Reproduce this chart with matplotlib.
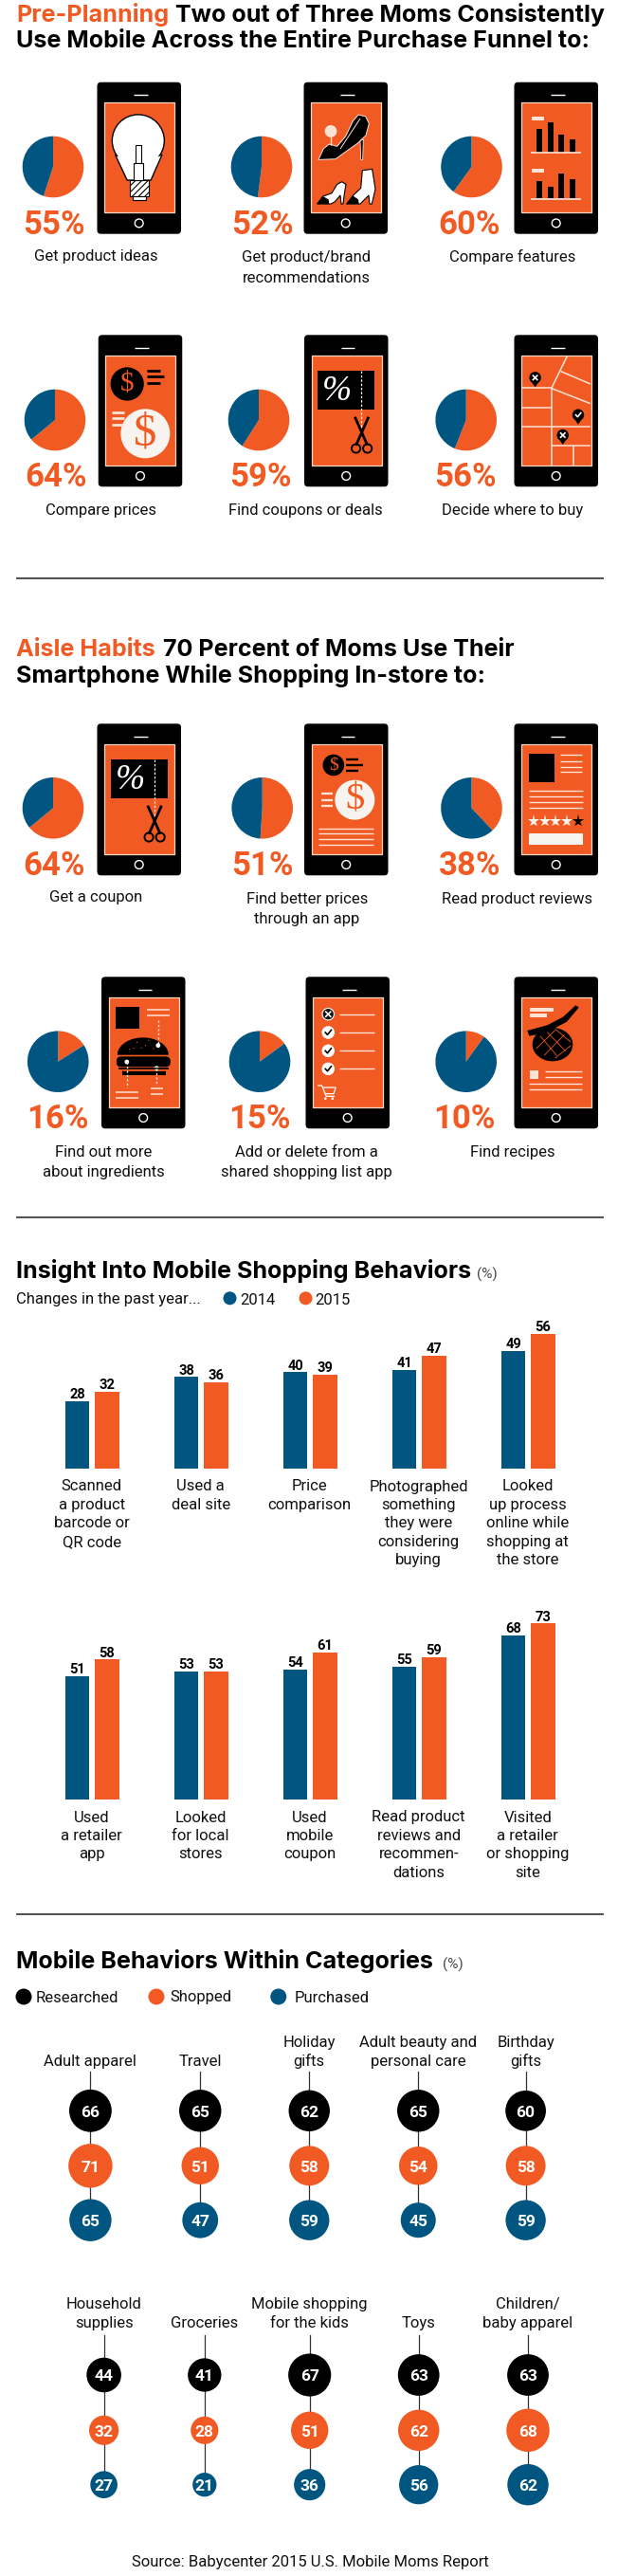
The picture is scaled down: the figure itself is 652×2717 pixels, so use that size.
import numpy as np
import matplotlib
matplotlib.use("Agg")
import matplotlib.pyplot as plt
from matplotlib.patches import Circle, Ellipse, FancyBboxPatch, Polygon, Rectangle

W, H = 652, 2717
ORANGE = "#F15A22"
BLUE = "#005581"
RULE = "#555555"
CREAM = "#fbe3d6"
FONT = "Roboto"
TITLE_FONT = "Inter"
TITLE_SIZE = 18.1
LABEL_SIZE = 12

# section 1 + 2 figures
planning_labels = ["Get product ideas", "Get product/brand\nrecommendations", "Compare features",
                   "Compare prices", "Find coupons or deals", "Decide where to buy"]
planning_values = [55, 52, 60, 64, 59, 56]
aisle_labels = ["Get a coupon", "Find better prices\nthrough an app", "Read product reviews",
                "Find out more\nabout ingredients", "Add or delete from a\nshared shopping list app", "Find recipes"]
aisle_values = [64, 51, 38, 16, 15, 10]

# section 3
bar_labels_top = ["Scanned\na product\nbarcode or\nQR code", "Used a\ndeal site", "Price\ncomparison",
                  "Photographed\nsomething\nthey were\nconsidering\nbuying",
                  "Looked\nup process\nonline while\nshopping at\nthe store"]
top_2014 = [28, 38, 40, 41, 49]
top_2015 = [32, 36, 39, 47, 56]
bar_labels_bottom = ["Used\na retailer\napp", "Looked\nfor local\nstores", "Used\nmobile\ncoupon",
                     "Read product\nreviews and\nrecommen-\ndations", "Visited\na retailer\nor shopping\nsite"]
bottom_2014 = [51, 53, 54, 55, 68]
bottom_2015 = [58, 53, 61, 59, 73]

# section 4
cats_top = ["Adult apparel", "Travel", "Holiday\ngifts", "Adult beauty and\npersonal care", "Birthday\ngifts"]
researched_top = [66, 65, 62, 65, 60]
shopped_top = [71, 51, 58, 54, 58]
purchased_top = [65, 47, 59, 45, 59]
cats_bottom = ["Household\nsupplies", "Groceries", "Mobile shopping\nfor the kids", "Toys", "Children/\nbaby apparel"]
researched_bottom = [44, 41, 67, 63, 63]
shopped_bottom = [32, 28, 51, 62, 68]
purchased_bottom = [27, 21, 36, 56, 62]

plt.rcParams["font.family"] = [FONT, "DejaVu Sans"]
plt.rcParams["hatch.linewidth"] = 0.8

fig = plt.figure(figsize=(W / 100, H / 100), dpi=100, facecolor="white")


def px_axes(left, top, width, height):
    return fig.add_axes([left / W, 1 - (top + height) / H, width / W, height / H])


ax = px_axes(0, 0, W, H)
ax.set_xlim(0, W)
ax.set_ylim(H, 0)
ax.axis("off")
ax.patch.set_alpha(0)
ax.set_zorder(5)


def text_lines(x, y, s, step=19.4, size=LABEL_SIZE):
    for i, line in enumerate(s.split("\n")):
        ax.text(x, y + i * step, line, ha="center", va="baseline", fontsize=size, color="#111111")


def title(x, y, s, color="black"):
    ax.text(x, y, s, color=color, fontsize=TITLE_SIZE, fontweight="bold", va="baseline", family=TITLE_FONT)


def rule(y):
    ax.plot([16.7, 636.7], [y, y], color=RULE, lw=1.5, solid_capstyle="butt")


def mapper(sx, sy, zx0, zy0, kx=2.4, ky=3):
    # icon shapes were measured on the zoomed reference
    return lambda zx, zy: (sx + (zx - zx0) / kx, sy + (zy - zy0) / ky)


def seg(P, a, b, color="white", lw=1.2, **kw):
    (x1, y1), (x2, y2) = P(*a), P(*b)
    ax.plot([x1, x2], [y1, y2], color=color, lw=lw, solid_capstyle="butt", **kw)


def rect(P, a, b, color="black"):
    (x1, y1), (x2, y2) = P(*a), P(*b)
    ax.add_patch(Rectangle((x1, y1), x2 - x1, y2 - y1, fc=color, ec="none"))


def poly(P, pts, fc="black", ec="none", lw=0.8):
    ax.add_patch(Polygon([P(*p) for p in pts], closed=True, fc=fc, ec=ec, lw=lw, joinstyle="round"))


def icon_bulb(sx, sy):
    P = mapper(sx, sy, 264, 325)
    poly(P, [(292, 490), (322, 570), (382, 570), (410, 490)], fc="white", ec="black", lw=1)
    ax.add_patch(Circle(P(350, 445), 27.5, fc="white", ec="black", lw=1))
    poly(P, [(296, 495), (325, 565), (380, 565), (406, 495)], fc="white")
    x, y = P(328, 570)
    ax.add_patch(Rectangle((x, y), 20, 16.5, fc="white", ec="black", lw=0.8, hatch="/////"))
    x, y = P(335, 620)
    ax.add_patch(Rectangle((x, y), 14, 4, fc="white", ec="black", lw=0.8))
    for a, b, c, d in [(343, 358, 458, 515), (338, 362, 515, 570)]:
        x, y = P(a, c)
        ax.add_patch(Rectangle((x, y), (b - a) / 2.4, (d - c) / 3, fc="white", ec="black", lw=0.8))


def icon_shoes(sx, sy):
    P = mapper(sx, sy, 22, 12, 3, 3)
    seg(P, (85, 110), (85, 145), color=CREAM, lw=1)
    ax.add_patch(Circle(P(85, 102), 6.4, fc=CREAM, ec="none"))
    poly(P, [(178, 132), (188, 128), (186, 192), (180, 192)], fc="black", ec=CREAM, lw=0.6)
    poly(P, [(46, 192), (62, 157), (80, 143), (105, 150), (132, 118), (155, 70), (172, 50), (195, 55), (206, 78),
             (196, 115), (170, 140), (125, 172), (100, 190)], fc="black", ec=CREAM, lw=0.7)
    seg(P, (115, 158), (178, 62), color=CREAM, lw=0.7)
    poly(P, [(120, 262), (133, 270), (128, 300), (124, 332), (118, 332), (115, 305), (98, 325), (85, 332), (42, 332),
             (60, 308), (88, 298), (105, 270)], fc="white", ec="black", lw=0.8)
    poly(P, [(42, 332), (60, 308), (78, 318), (80, 332)], fc="black")
    poly(P, [(185, 226), (216, 222), (226, 285), (215, 332), (208, 332), (205, 305), (178, 332), (135, 332),
             (155, 306), (180, 282)], fc="white", ec="black", lw=0.8)
    poly(P, [(135, 332), (155, 306), (172, 318), (174, 332)], fc="black")


def icon_charts(sx, sy):
    P = mapper(sx, sy, 1320, 325)
    rect(P, (1346, 370), (1378, 380), CREAM)
    rect(P, (1346, 535), (1378, 545), CREAM)
    for x, t1, t2 in zip([1358, 1386, 1414, 1442], [408, 388, 425, 440], [573, 591, 549, 567]):
        rect(P, (x, t1), (x + 15, 483))
        rect(P, (x, t2), (x + 15, 628))
    seg(P, (1345, 484), (1470, 484), color=CREAM)
    seg(P, (1345, 630), (1470, 630), color=CREAM)


def icon_prices(sx, sy):
    P = mapper(sx, sy, 267, 168)
    ax.add_patch(Circle(P(322, 258), 17.6, fc="black"))
    ax.text(*P(322, 258), "$", color=ORANGE, fontsize=21, ha="center", va="center", family="Liberation Serif")
    for y, x2 in [(215, 405), (235, 415), (254, 405)]:
        seg(P, (373, y), (x2, y), color="black", lw=2)
    ax.add_patch(Circle(P(368, 415), 26, fc="#f7f3ee"))
    ax.text(*P(368, 415), "$", color=ORANGE, fontsize=35, ha="center", va="center", family="Liberation Serif")
    for y in [349, 367, 387]:
        seg(P, (282, y), (314, y), color=CREAM, lw=2)


def icon_coupon(sx, sy):
    P = mapper(sx, sy, 790, 168)
    rect(P, (806, 217), (950, 340))
    ax.text(*P(855, 282), "%", color="white", fontsize=27, ha="center", va="center",
            family="Liberation Serif", style="italic")
    seg(P, (917, 217), (917, 400), lw=0.9, linestyle=(0, (2, 1.5)))
    seg(P, (903, 452), (935, 362), color="black", lw=2)
    seg(P, (932, 452), (900, 362), color="black", lw=2)
    for x in (903, 932):
        ax.add_patch(Circle(P(x, 462), 4.6, fc="none", ec="black", lw=1.4))


def icon_map(sx, sy):
    P = mapper(sx, sy, 1320, 168)
    for a, b in [((1322, 270), (1397, 270)), ((1436, 170), (1397, 270)), ((1397, 270), (1397, 516)),
                 ((1420, 218), (1495, 258)), ((1397, 272), (1495, 320)), ((1322, 332), (1397, 332)),
                 ((1322, 394), (1495, 394)), ((1397, 454), (1495, 454)), ((1452, 454), (1452, 516))]:
        seg(P, a, b, color=CREAM, lw=1.1)
    for x, y, mark in [(1355, 238, "x"), (1464, 356, "c"), (1425, 420, "x")]:
        cx, cy = P(x, y)
        ax.add_patch(Polygon([(cx - 5.5, cy + 2), (cx + 5.5, cy + 2), (cx, cy + 10)], fc="black", ec="none"))
        ax.add_patch(Circle((cx, cy), 6.2, fc="black"))
        if mark == "x":
            ax.plot([cx - 2.2, cx + 2.2], [cy - 2.2, cy + 2.2], color="white", lw=1.2)
            ax.plot([cx - 2.2, cx + 2.2], [cy + 2.2, cy - 2.2], color="white", lw=1.2)
        else:
            ax.plot([cx - 2.5, cx - 0.6, cx + 2.8], [cy, cy + 2, cy - 2.2], color="white", lw=1.2)


def icon_better_prices(sx, sy):
    P = mapper(sx, sy, 790, 436)
    ax.add_patch(Circle(P(846, 502), 11.3, fc="black"))
    ax.text(*P(846, 502), "$", color=ORANGE, fontsize=14, ha="center", va="center", family="Liberation Serif")
    for y, x2 in [(483, 908), (502, 920), (520, 908)]:
        seg(P, (878, y), (x2, y), color="black", lw=1.7)
    ax.add_patch(Circle(P(900, 612), 21, fc="#f7f3ee"))
    ax.text(*P(900, 612), "$", color=ORANGE, fontsize=29, ha="center", va="center", family="Liberation Serif")
    for y in [592, 612, 632]:
        seg(P, (815, y), (845, y), color=CREAM, lw=1.7)
    for y in [702, 718, 735, 755]:
        seg(P, (808, y), (948, y), color=CREAM, lw=1)


def icon_reviews(sx, sy):
    P = mapper(sx, sy, 1320, 436)
    rect(P, (1338, 466), (1403, 556))
    for y in [470, 489, 507, 524]:
        seg(P, (1418, y), (1474, y), color=CREAM, lw=1)
    for y in [584, 602, 620, 638]:
        seg(P, (1338, y), (1476, y), color=CREAM, lw=1)
    for x, c in [(1350, "#f7f3ee"), (1379, "#f7f3ee"), (1407, "#f7f3ee"), (1436, "#f7f3ee"), (1464, "black")]:
        ax.plot(*P(x, 678), marker="*", color=c, ms=9.5, mew=0)
    rect(P, (1338, 717), (1477, 755), "#f7f3ee")


def icon_burger(sx, sy):
    P = mapper(sx, sy, 8, 8, 3, 3)
    rect(P, (30, 37), (105, 107))
    for y in [46, 65]:
        seg(P, (130, y), (200, y), color=CREAM, lw=1.1)
    ang = np.linspace(np.pi, 2 * np.pi, 30)
    poly(P, list(zip(117 + 81 * np.cos(ang), 190 + 55 * np.sin(ang))))
    for dx, dy in [(75, 172), (98, 150), (112, 168), (135, 145), (150, 170), (88, 168), (125, 160)]:
        ax.add_patch(Circle(P(dx, dy), 0.6, fc=ORANGE))
    x, y = P(33, 195)
    ax.add_patch(FancyBboxPatch((x + 5, y + 5), 47, 1, boxstyle="round,pad=5", fc="black", ec="none"))
    seg(P, (38, 232), (198, 232), color="black", lw=1.2)
    rect(P, (50, 240), (190, 255))
    seg(P, (50, 239), (190, 239), color=ORANGE, lw=0.6)
    for a, b, c in [(165, 80, 160), (66, 212, 292), (158, 232, 288)]:
        seg(P, (a, b), (a, c), color=CREAM, lw=1, linestyle=(0, (1.6, 1.6)))
    for a, b in [(165, 160), (66, 212), (160, 232)]:
        ax.add_patch(Circle(P(a, b), 2.4, fc="white"))
    for y in [308, 326]:
        seg(P, (30, y), (102, y), color=CREAM, lw=1.1)
    for y in [296, 315]:
        seg(P, (140, y), (180, y), color=CREAM, lw=1.1)


def icon_checklist(sx, sy):
    P = mapper(sx, sy, 792, 277)
    for i, y in enumerate([330, 388, 446, 503]):
        cx, cy = P(831, y)
        ax.add_patch(Circle((cx, cy), 6.2, fc="white" if i else "#111111", ec="white", lw=0.8))
        if i:
            ax.plot([cx - 3, cx - 0.8, cx + 3.2], [cy, cy + 2.4, cy - 2.6], color="black", lw=1.2)
        else:
            ax.plot([cx - 2.5, cx + 2.5], [cy - 2.5, cy + 2.5], color="white", lw=1.2)
            ax.plot([cx - 2.5, cx + 2.5], [cy + 2.5, cy - 2.5], color="white", lw=1.2)
        seg(P, (860, y), (948, y), color=CREAM, lw=1)
    cart = [P(806, 556), P(815, 556), P(826, 590), P(846, 590)]
    ax.plot(*zip(*cart), color="white", lw=0.9)
    ax.plot(*zip(P(818, 562), P(850, 562), P(845, 582), P(824, 582)), color="white", lw=0.9)
    for x in (824, 842):
        ax.add_patch(Circle(P(x, 597), 1.3, fc="white"))


def icon_steak(sx, sy):
    P = mapper(sx, sy, 8, 8, 3, 3)
    rect(P, (35, 42), (110, 52), CREAM)
    rect(P, (35, 60), (88, 70), CREAM)
    poly(P, [(27, 113), (90, 96), (140, 70), (180, 33), (190, 40), (152, 85), (120, 102), (60, 125), (33, 130)])
    ang = np.linspace(0, 2 * np.pi, 40)
    poly(P, list(zip(107 + 64 * np.cos(ang), 157 + 53 * np.sin(ang))))
    for a, b in [((68, 130), (120, 192)), ((90, 118), (148, 178)), ((115, 108), (165, 150)),
                 ((55, 170), (115, 112)), ((80, 192), (145, 125)), ((115, 200), (165, 160))]:
        seg(P, a, b, color=ORANGE, lw=0.6)
    rect(P, (35, 240), (63, 266), CREAM)
    for y, x1 in [(243, 82), (261, 82), (281, 32), (298, 32)]:
        seg(P, (x1, y), (200, y), color=CREAM, lw=1)


def phone(x0, y0, icon):
    ax.add_patch(FancyBboxPatch((x0 + 4, y0 + 4), 80.5, 152, boxstyle="round,pad=4", fc="black", ec="none"))
    ax.add_patch(Rectangle((x0 + 7.5, y0 + 21.7), 74, 116, fc=ORANGE, ec="#fbd9c6", lw=0.9))
    ax.plot([x0 + 38.5, x0 + 53], [y0 + 13.6, y0 + 13.6], color="white", lw=1, solid_capstyle="butt")
    ax.add_patch(Circle((x0 + 44.2, y0 + 148.7), 4.4, fc="black", ec="white", lw=1))
    icon(x0 + 7.5, y0 + 21.7)


def tile(value, label, pie_cx, pie_cy, pct_cx, phone_x, phone_y, label_cx, label_y, icon):
    pa = px_axes(pie_cx - 32.3, pie_cy - 32.3, 64.6, 64.6)
    pa.pie([value, 100 - value], colors=[ORANGE, BLUE], startangle=90, counterclock=False, radius=1)
    pa.set_xlim(-1, 1)
    pa.set_ylim(-1, 1)
    ax.text(pct_cx, phone_y + 160, f"{value}%", color=ORANGE, fontsize=25, fontweight="bold",
            ha="center", va="baseline")
    phone(phone_x, phone_y, icon)
    text_lines(label_cx, label_y, label, step=21.7)


# section 1
title(17, 23.3, "Pre-Planning", ORANGE)
title(185.4, 23.3, "Two out of Three Moms Consistently")
title(17, 50, "Use Mobile Across the Entire Purchase Funnel to:")

row = [(56, 176, 56.7, 102.5, 86.7, 101, 275), (276, 176, 277, 320.5, 86.7, 323, 276), (497.5, 176, 495, 542.5, 86.7, 541, 276)]
icons = [icon_bulb, icon_shoes, icon_charts]
for i in range(3):
    r = row[i]
    tile(planning_values[i], planning_labels[i], r[0], r[1], r[2], r[3], r[4], r[5], r[6], icons[i])

row = [(58, 443, 58.7, 103.75, 353.3, 106, 543), (273, 443, 274.6, 321, 353.3, 322, 543), (491.7, 443, 491, 542.5, 353.3, 541, 543)]
icons = [icon_prices, icon_coupon, icon_map]
for i in range(3):
    r = row[i]
    tile(planning_values[i + 3], planning_labels[i + 3], r[0], r[1], r[2], r[3], r[4], r[5], r[6], icons[i])
rule(610)

# section 2
title(17, 692.3, "Aisle Habits", ORANGE)
title(171.7, 692.3, "70 Percent of Moms Use Their")
title(17, 720, "Smartphone While Shopping In-store to:")

row = [(56, 852.3, 56.7, 102.5, 763.3, 101, 951.5), (276.7, 852.3, 276.7, 321, 763.3, 324, 952.5), (497.5, 852.3, 495.4, 542.5, 763.3, 546, 952.5)]
icons = [icon_coupon, icon_better_prices, icon_reviews]
for i in range(3):
    r = row[i]
    tile(aisle_values[i], aisle_labels[i], r[0], r[1], r[2], r[3], r[4], r[5], r[6], icons[i])

row = [(61.25, 1119.7, 61, 107, 1030.3, 109.6, 1219.7), (274, 1119.7, 274, 322.5, 1030.3, 323, 1219.7), (491.7, 1119.7, 490, 542.5, 1030.3, 541, 1219.7)]
icons = [icon_burger, icon_checklist, icon_steak]
for i in range(3):
    r = row[i]
    tile(aisle_values[i + 3], aisle_labels[i + 3], r[0], r[1], r[2], r[3], r[4], r[5], r[6], icons[i])
rule(1284)

# section 3
title(17, 1348, "Insight Into Mobile Shopping Behaviors")
ax.text(503, 1349, "(%)", color="#444444", fontsize=11, va="baseline")
ax.text(17, 1375.5, "Changes in the past year...", color="#111111", fontsize=LABEL_SIZE, va="baseline")
ax.add_patch(Circle((242.5, 1369.3), 7, fc=BLUE))
ax.text(253, 1375.5, "2014", color="#111111", fontsize=LABEL_SIZE, va="baseline")
ax.add_patch(Circle((322.5, 1369.3), 7, fc=ORANGE))
ax.text(332.5, 1375.5, "2015", color="#111111", fontsize=LABEL_SIZE, va="baseline")


def bar_panel(baseline, labels, v14, v15, label_y):
    ba = px_axes(0, baseline - 203.2, W, 203.2)
    ba.set_xlim(-97.3 / 115, (W - 97.3) / 115)
    ba.set_ylim(0, 80)
    ba.axis("off")
    x = np.arange(len(labels))
    ba.bar(x - 0.137, v14, 0.2243, color=BLUE)
    ba.bar(x + 0.137, v15, 0.2243, color=ORANGE)
    for xs, vals in [(x - 0.137, v14), (x + 0.137, v15)]:
        for a, b in zip(xs, vals):
            ba.annotate(str(b), (a, b), xytext=(0, 2), textcoords="offset points", ha="center", va="baseline",
                        fontsize=10.5, fontweight="bold", color="black")
    for i, lab in enumerate(labels):
        text_lines(96.7 + i * 115, label_y, lab)


bar_panel(1549, bar_labels_top, top_2014, top_2015, 1572.5)
bar_panel(1897.7, bar_labels_bottom, bottom_2014, bottom_2015, 1921.5)
rule(2019)

# section 4
title(17, 2076, "Mobile Behaviors Within Categories")
ax.text(467.5, 2077, "(%)", color="#444444", fontsize=11, va="baseline")
for cx, c, tx, s in [(25, "black", 37.5, "Researched"), (165, ORANGE, 179.6, "Shopped"), (293.75, BLUE, 310.8, "Purchased")]:
    ax.add_patch(Circle((cx, 2106), 8.5, fc=c))
    ax.text(tx, 2111.5, s, color="#111111", fontsize=LABEL_SIZE, va="baseline")


def bubble_rows(xs, cats, res, sho, pur, ys, line_top, label_bottom):
    for x, cat, a, b, c in zip(xs, cats, res, sho, pur):
        ax.plot([x, x], [line_top, ys[2]], color="#333333", lw=0.9, zorder=1)
        lines = cat.split("\n")
        text_lines(x, label_bottom - (len(lines) - 1) * 19.7, cat, step=19.7)
        ax.scatter([x] * 3, ys, s=np.array([a, b, c]) * 15.76, c=["black", ORANGE, BLUE], linewidths=0, zorder=2)
        for y, v in zip(ys, (a, b, c)):
            ax.text(x, y + 0.3, str(v), color="white", fontsize=12.5, fontweight="bold", ha="center",
                    va="center_baseline", zorder=3)


bubble_rows([95.4, 211.25, 326.25, 441.25, 554.6], cats_top, researched_top, shopped_top, purchased_top,
            [2226.3, 2284.3, 2341.7], 2185, 2179)
bubble_rows([109.6, 215.8, 326.7, 441.7, 557], cats_bottom, researched_bottom, shopped_bottom, purchased_bottom,
            [2505, 2563.3, 2620.7], 2463.3, 2455)

ax.text(327, 2707.5, "Source: Babycenter 2015 U.S. Mobile Moms Report", color="#111111", fontsize=LABEL_SIZE,
        ha="center", va="baseline")

fig.savefig("out.png", dpi=100)
